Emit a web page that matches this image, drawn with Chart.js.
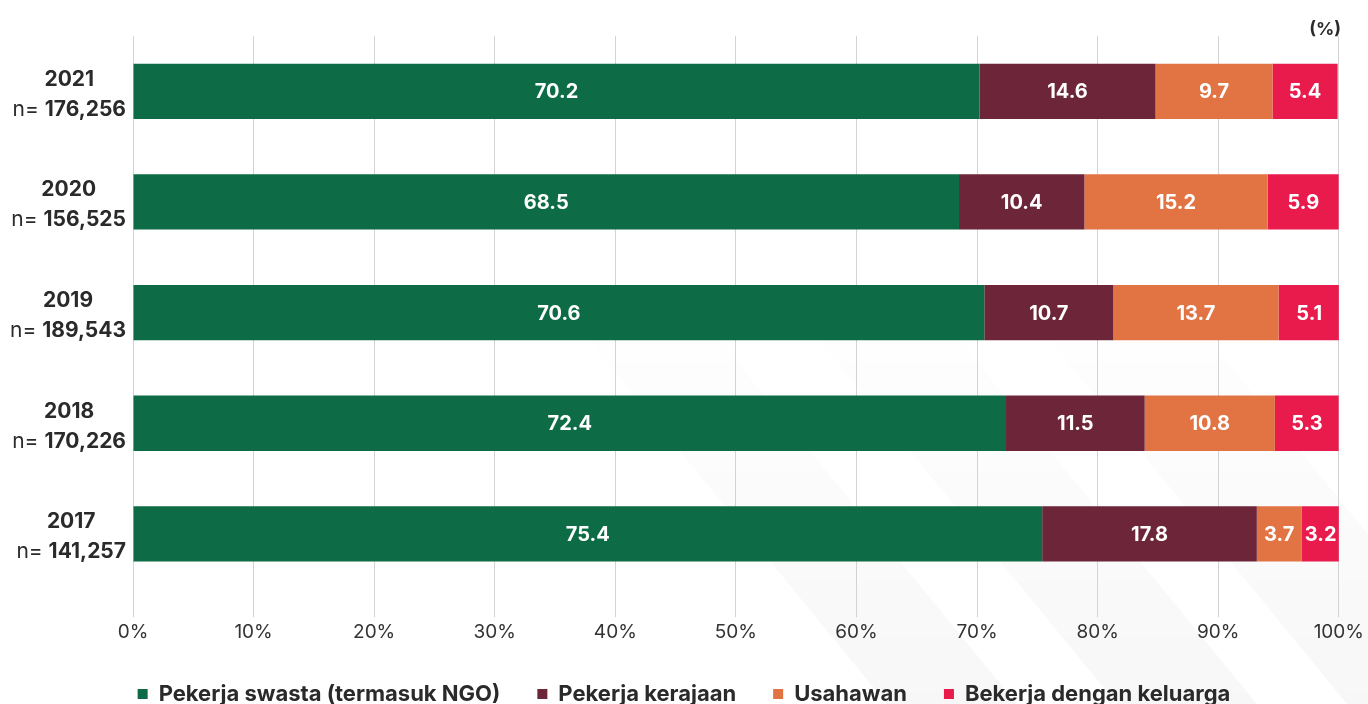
<!DOCTYPE html>
<html>
<head>
<meta charset="utf-8">
<script src="https://cdn.jsdelivr.net/npm/chart.js@4.4.1/dist/chart.umd.min.js"></script>
<style>
  html, body { margin: 0; padding: 0; background: #fff; overflow: hidden; }
  .chart-container { position: relative; width: 1368px; height: 715px; }
</style>
</head>
<body>
<div class="chart-container"><canvas id="chart"></canvas></div>
<script>
// data
const years = ['2021', '2020', '2019', '2018', '2017'];
const sampleSizes = ['176,256', '156,525', '189,543', '170,226', '141,257'];
const swasta = [70.2, 68.5, 70.6, 72.4, 75.4];
const kerajaan = [14.6, 10.4, 10.7, 11.5, 17.8];
const usahawan = [9.7, 15.2, 13.7, 10.8, 3.7];
const keluarga = [5.4, 5.9, 5.1, 5.3, 3.2];
const seriesNames = ['Pekerja swasta (termasuk NGO)', 'Pekerja kerajaan', 'Usahawan', 'Bekerja dengan keluarga'];
const seriesColors = ['#0d6c45', '#6d2539', '#e27444', '#e81b4c'];
const unitLabel = '(%)';

const FONT = 'Inter, "Open Sans", sans-serif';
const TEXT = '#2a2a2a';

// faint diagonal stripes in the background
const bgStripes = {
    id: 'bgStripes',
    beforeDraw(chart) {
        const ctx = chart.ctx;
        const bands = [[900, 130], [1130, 140], [1360, 160]];
        ctx.save();
        bands.forEach(([x0, w]) => {
            const g = ctx.createLinearGradient(0, 720, 0, 280);
            g.addColorStop(0, 'rgba(0,0,0,0.03)');
            g.addColorStop(1, 'rgba(0,0,0,0)');
            ctx.fillStyle = g;
            ctx.beginPath();
            ctx.moveTo(x0, 720);
            ctx.lineTo(x0 + w, 720);
            ctx.lineTo(x0 + w - 360, 280);
            ctx.lineTo(x0 - 360, 280);
            ctx.closePath();
            ctx.fill();
        });
        ctx.restore();
    }
};

// legend is centred on the whole canvas, not just the padded area
const legendFullWidth = {
    id: 'legendFullWidth',
    afterLayout(chart) {
        chart.legend.left = 0;
        chart.legend.right = chart.width;
    }
};

const yearLabels = {
    id: 'yearLabels',
    afterDraw(chart) {
        const ctx = chart.ctx;
        const yScale = chart.scales.y;
        const right = 126;
        ctx.save();
        ctx.fillStyle = TEXT;
        ctx.textBaseline = 'middle';
        years.forEach((yr, i) => {
            const y = yScale.getPixelForValue(i);
            ctx.font = '21px ' + FONT;
            const wN = ctx.measureText('n= ').width;
            ctx.font = 'bold 21px ' + FONT;
            const wV = ctx.measureText(sampleSizes[i]).width;
            const left = right - wN - wV;
            const mid = left + (wN + wV) / 2;
            ctx.textAlign = 'center';
            ctx.fillText(yr, mid, y - 12);
            ctx.textAlign = 'left';
            ctx.font = '21px ' + FONT;
            ctx.fillText('n= ', left, y + 18);
            ctx.font = 'bold 21px ' + FONT;
            ctx.fillText(sampleSizes[i], left + wN, y + 18);
        });
        // unit in the top right corner
        ctx.font = 'bold 18px ' + FONT;
        ctx.textAlign = 'right';
        ctx.fillText(unitLabel, 1341, 30);
        ctx.restore();
    }
};

const barValues = {
    id: 'barValues',
    afterDatasetsDraw(chart) {
        const ctx = chart.ctx;
        ctx.save();
        ctx.fillStyle = '#fff';
        ctx.font = 'bold 20px ' + FONT;
        ctx.textAlign = 'center';
        ctx.textBaseline = 'middle';
        chart.data.datasets.forEach((ds, di) => {
            chart.getDatasetMeta(di).data.forEach((bar, i) => {
                ctx.fillText(ds.data[i].toFixed(1), (bar.x + bar.base) / 2, bar.y + 1);
            });
        });
        ctx.restore();
    }
};

const ctx = document.getElementById('chart').getContext('2d');
new Chart(ctx, {
    type: 'bar',
    data: {
        labels: years,
        datasets: [swasta, kerajaan, usahawan, keluarga].map((vals, k) => ({
            label: seriesNames[k],
            data: vals,
            backgroundColor: seriesColors[k],
            borderWidth: 0,
            categoryPercentage: 1,
            barPercentage: 0.5
        }))
    },
    options: {
        indexAxis: 'y',
        responsive: true,
        maintainAspectRatio: false,
        animation: false,
        layout: { padding: { top: 36, left: 133, right: 25, bottom: 0 } },
        scales: {
            x: {
                stacked: true,
                min: 0,
                max: 100,
                border: { display: false },
                grid: { color: '#d3d3d3', lineWidth: 1, tickLength: 28 },
                ticks: {
                    stepSize: 10,
                    padding: 4,
                    color: '#333',
                    font: { family: FONT, size: 19 },
                    callback: v => v + '%'
                },
                afterFit: scale => { scale.height -= 2; }
            },
            y: {
                stacked: true,
                display: false
            }
        },
        plugins: {
            legend: {
                position: 'bottom',
                labels: {
                    boxWidth: 10,
                    boxHeight: 10,
                    padding: 37,
                    color: TEXT,
                    font: { family: FONT, size: 22, weight: 'bold' }
                }
            },
            tooltip: { enabled: false }
        }
    },
    plugins: [bgStripes, legendFullWidth, yearLabels, barValues]
});
</script>
</body>
</html>
